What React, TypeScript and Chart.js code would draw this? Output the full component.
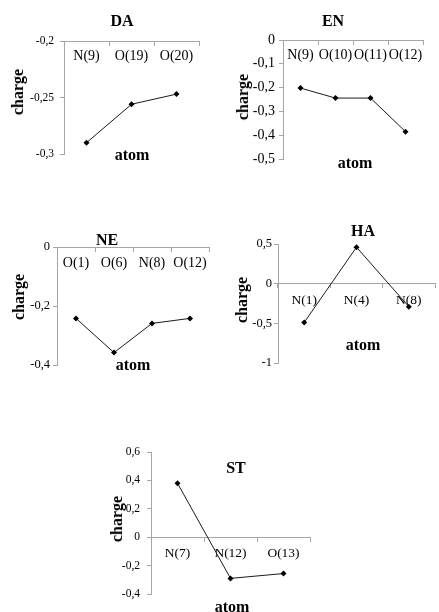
import React, { useEffect, useRef } from "react";
import { Chart, registerables } from "chart.js";

Chart.register(...registerables);

const FONT = '"Liberation Serif", "Times New Roman", Times, serif';
const AXIS_COLOR = "#a6a6a6";
const LINE_COLOR = "#1a1a1a";

// ---- DA ----
const DA_LABELS = ["N(9)", "O(19)", "O(20)"];
const DA_VALUES = [-0.29, -0.256, -0.247];
const DA_TICKS = [-0.3, -0.25, -0.2];
const DA_TICK_LABELS = ["-0,3", "-0,25", "-0,2"];

// ---- EN ----
const EN_LABELS = ["N(9)", "O(10)", "O(11)", "O(12)"];
const EN_VALUES = [-0.202, -0.244, -0.244, -0.385];
const EN_TICKS = [-0.5, -0.4, -0.3, -0.2, -0.1, 0];
const EN_TICK_LABELS = ["-0,5", "-0,4", "-0,3", "-0,2", "-0,1", "0"];

// ---- NE ----
const NE_LABELS = ["O(1)", "O(6)", "N(8)", "O(12)"];
const NE_VALUES = [-0.242, -0.358, -0.259, -0.242];
const NE_TICKS = [-0.4, -0.2, 0];
const NE_TICK_LABELS = ["-0,4", "-0,2", "0"];

// ---- HA ----
const HA_LABELS = ["N(1)", "N(4)", "N(8)"];
const HA_VALUES = [-0.49, 0.46, -0.29];
const HA_TICKS = [-1, -0.5, 0, 0.5];
const HA_TICK_LABELS = ["-1", "-0,5", "0", "0,5"];

// ---- ST ----
const ST_LABELS = ["N(7)", "N(12)", "O(13)"];
const ST_VALUES = [0.38, -0.29, -0.256];
const ST_TICKS = [-0.4, -0.2, 0, 0.2, 0.4, 0.6];
const ST_TICK_LABELS = ["-0,4", "-0,2", "0", "0,2", "0,4", "0,6"];

type Spec = {
  id: string;
  title: string;
  labels: string[];
  values: number[];
  ticks: number[];
  tickLabels: string[];
  cross: number;
  area: { l: number; t: number; r: number; b: number };
  padRight: number;
  tickFont: number;
  catFont: number;
  yTickPad: number;
  xTickPad: number;
  titlePos: [number, number];
  chargePos: [number, number];
  atomPos: [number, number];
};

const Y_W = 50;
const PAD_TB = 16;

const SPECS: Spec[] = [
  {
    id: "DA", title: "DA", labels: DA_LABELS, values: DA_VALUES, ticks: DA_TICKS, tickLabels: DA_TICK_LABELS,
    cross: -0.2, area: { l: 64, t: 41, r: 199, b: 154 }, padRight: 6,
    tickFont: 11.5, catFont: 14, yTickPad: 6, xTickPad: 3,
    titlePos: [122, 21], chargePos: [18, 92], atomPos: [132, 155],
  },
  {
    id: "EN", title: "EN", labels: EN_LABELS, values: EN_VALUES, ticks: EN_TICKS, tickLabels: EN_TICK_LABELS,
    cross: 0, area: { l: 283, t: 40, r: 423, b: 159 }, padRight: 6,
    tickFont: 14, catFont: 14, yTickPad: 4, xTickPad: 3,
    titlePos: [333, 21], chargePos: [243, 97], atomPos: [355, 163],
  },
  {
    id: "NE", title: "NE", labels: NE_LABELS, values: NE_VALUES, ticks: NE_TICKS, tickLabels: NE_TICK_LABELS,
    cross: 0, area: { l: 57, t: 247, r: 209, b: 365 }, padRight: 6,
    tickFont: 12.5, catFont: 14, yTickPad: 3, xTickPad: 4,
    titlePos: [107, 240], chargePos: [19, 297], atomPos: [133, 365],
  },
  {
    id: "HA", title: "HA", labels: HA_LABELS, values: HA_VALUES, ticks: HA_TICKS, tickLabels: HA_TICK_LABELS,
    cross: 0, area: { l: 278, t: 244, r: 439, b: 363 }, padRight: 0,
    tickFont: 12.5, catFont: 13.5, yTickPad: 2, xTickPad: 5,
    titlePos: [363, 231], chargePos: [242, 300], atomPos: [363, 345],
  },
  {
    id: "ST", title: "ST", labels: ST_LABELS, values: ST_VALUES, ticks: ST_TICKS, tickLabels: ST_TICK_LABELS,
    cross: 0, area: { l: 151, t: 452, r: 310, b: 594 }, padRight: 6,
    tickFont: 11.5, catFont: 13.5, yTickPad: 7, xTickPad: 4,
    titlePos: [236, 468], chargePos: [117, 519], atomPos: [232, 607],
  },
];

function Label({ text, pos, size, rotate }: { text: string; pos: [number, number]; size: number; rotate?: boolean }) {
  return (
    <div
      style={{
        position: "absolute",
        left: pos[0],
        top: pos[1],
        transform: `translate(-50%, -50%)${rotate ? " rotate(-90deg)" : ""}`,
        font: `bold ${size}px ${FONT}`,
        lineHeight: 1,
        whiteSpace: "nowrap",
        color: "#000",
      }}
    >
      {text}
    </div>
  );
}

function MiniChart({ spec }: { spec: Spec }) {
  const ref = useRef<HTMLCanvasElement | null>(null);
  const { area } = spec;
  const left = area.l - Y_W;
  const top = area.t - PAD_TB;
  const width = area.r - area.l + Y_W + spec.padRight;
  const height = area.b - area.t + PAD_TB * 2;

  useEffect(() => {
    if (!ref.current) return;
    const tickLabel = (v: number) => {
      const i = spec.ticks.findIndex((t) => Math.abs(t - v) < 1e-9);
      return i >= 0 ? spec.tickLabels[i] : "";
    };
    const chart = new Chart(ref.current, {
      type: "line",
      data: {
        labels: spec.labels,
        datasets: [
          {
            data: spec.values,
            borderColor: LINE_COLOR,
            borderWidth: 1,
            pointStyle: "rectRot",
            pointRadius: 3,
            pointBackgroundColor: "#000",
            pointBorderColor: "#000",
            pointBorderWidth: 0,
            tension: 0,
            clip: false,
          } as any,
        ],
      },
      options: {
        animation: false,
        responsive: false,
        maintainAspectRatio: false,
        events: [],
        layout: { padding: { left: 0, top: PAD_TB, right: spec.padRight, bottom: PAD_TB } },
        plugins: { legend: { display: false }, tooltip: { enabled: false }, title: { display: false } },
        scales: {
          x: {
            type: "category",
            offset: true,
            position: { y: spec.cross } as any,
            afterFit: (s: any) => {
              s.height = 0;
            },
            ticks: {
              autoSkip: false,
              maxRotation: 0,
              minRotation: 0,
              color: "#000",
              padding: spec.xTickPad,
              font: { family: FONT, size: spec.catFont },
            },
            grid: {
              offset: true,
              drawOnChartArea: false,
              drawTicks: true,
              tickLength: 4,
              color: AXIS_COLOR,
            },
            border: { color: AXIS_COLOR, width: 1 },
          },
          y: {
            type: "linear",
            position: "left",
            min: spec.ticks[0],
            max: spec.ticks[spec.ticks.length - 1],
            afterBuildTicks: (s: any) => {
              s.ticks = spec.ticks.map((v) => ({ value: v }));
            },
            afterFit: (s: any) => {
              s.width = Y_W;
            },
            ticks: {
              color: "#000",
              padding: spec.yTickPad,
              font: { family: FONT, size: spec.tickFont },
              callback: (v: any) => tickLabel(Number(v)),
            },
            grid: {
              drawOnChartArea: false,
              drawTicks: true,
              tickLength: 4,
              color: AXIS_COLOR,
            },
            border: { color: AXIS_COLOR, width: 1 },
          },
        },
      } as any,
    });
    return () => chart.destroy();
  }, [spec]);

  return (
    <>
      <canvas
        ref={ref}
        width={width}
        height={height}
        style={{ position: "absolute", left, top, width, height }}
      />
      <Label text={spec.title} pos={spec.titlePos} size={16} />
      <Label text="charge" pos={spec.chargePos} size={16} rotate />
      <Label text="atom" pos={spec.atomPos} size={16} />
    </>
  );
}

export default function App() {
  return (
    <div
      style={{
        position: "absolute",
        left: 0,
        top: 0,
        width: 439,
        height: 612,
        overflow: "hidden",
        background: "#fff",
      }}
    >
      {SPECS.map((s) => (
        <MiniChart key={s.id} spec={s} />
      ))}
    </div>
  );
}
